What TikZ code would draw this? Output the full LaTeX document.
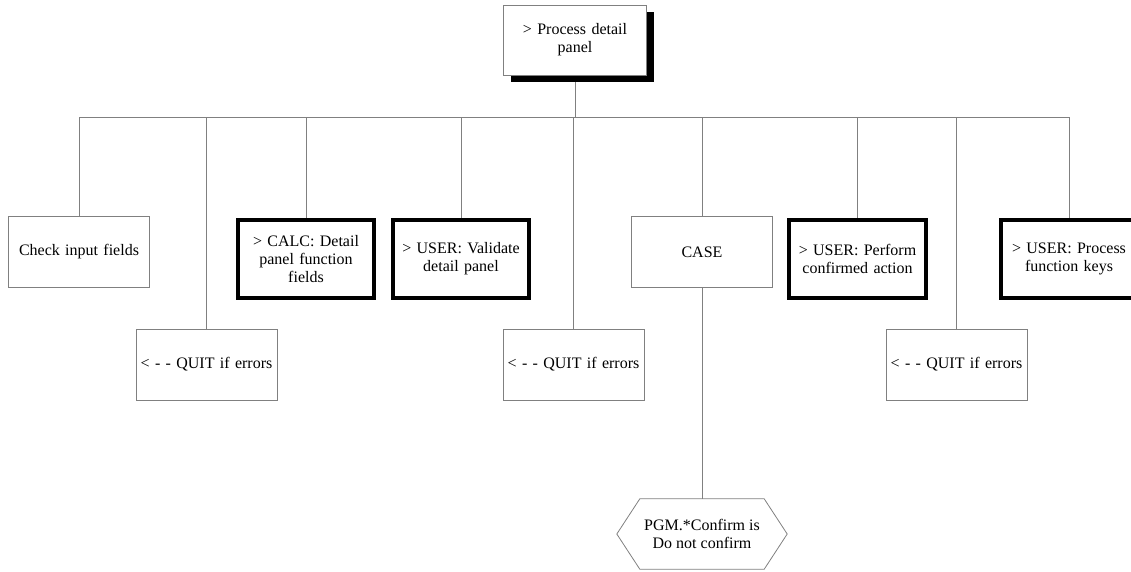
\documentclass[tikz,border=0pt]{standalone}
\usepackage{fontspec}
\setmainfont{Liberation Serif}
\usetikzlibrary{backgrounds,shadows}
\begin{document}
\begin{tikzpicture}[x=1pt,y=-1pt,
  every node/.style={font=\fontsize{16}{18}\selectfont, align=center, inner sep=2pt},
  plainbox/.style={draw=black!50, line width=0.8pt, fill=white, minimum width=141pt, minimum height=71pt, text width=134pt},
  heavybox/.style={draw=black, line width=3.6pt, fill=white, minimum width=136.5pt, minimum height=78.5pt, text width=128pt},
  rootbox/.style={plainbox, minimum width=143pt, minimum height=70pt,
    drop shadow={shadow xshift=7pt, shadow yshift=-7pt, fill=black, opacity=1}},
  link/.style={draw=black!50, line width=0.8pt}]
\useasboundingbox (0,0) rectangle (1131,571);
\clip (0,0) rectangle (1131,571);

% root and first-level steps
\node[rootbox] (top) at (575,40) {> Process detail\\panel};
\node[plainbox] (chk) at (79,252) {Check input fields};
\node[plainbox] (q1) at (206.5,364.5) {< - - QUIT if errors};
\node[heavybox] (calc) at (306,259) {> CALC: Detail\\panel function\\fields};
\node[heavybox] (val) at (461,259) {> USER: Validate\\detail panel};
\node[plainbox] (q2) at (573.5,364.5) {< - - QUIT if errors};
\node[plainbox] (case) at (702,252) {CASE};
\node[heavybox] (perf) at (857.5,259) {> USER: Perform\\confirmed action};
\node[plainbox] (q3) at (956.5,364.5) {< - - QUIT if errors};
\node[heavybox] (keys) at (1069,259) {> USER: Process\\function keys};

% case branch (hexagon)
\node[minimum width=170pt, minimum height=70pt] (hex) at (702,534) {PGM.*Confirm is\\Do not confirm};
\draw[link] ([xshift=23pt]hex.north west) -- ([xshift=-23pt]hex.north east)
  -- (hex.east) -- ([xshift=-23pt]hex.south east) -- ([xshift=23pt]hex.south west)
  -- (hex.west) -- cycle;

% connectors
\coordinate (busL) at (79,117);
\coordinate (busR) at (1069,117);
\begin{pgfonlayer}{background}
\draw[link] (top.south) -- (top.south |- busL);
\draw[link] (busL) -- (busR);
\foreach \n in {chk,q1,calc,val,q2,case,perf,q3,keys}
  \draw[link] (\n.north |- busL) -- (\n.north);
\draw[link] (case.south) -- (hex.north);
\end{pgfonlayer}
\end{tikzpicture}
\end{document}
